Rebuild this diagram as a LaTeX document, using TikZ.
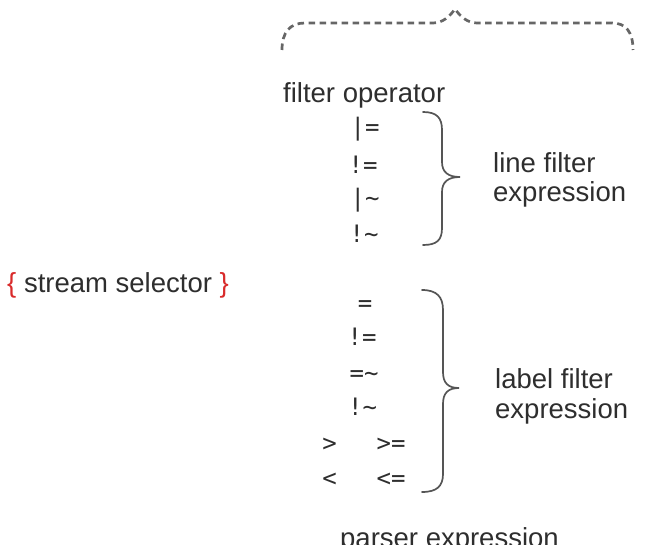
\documentclass[tikz,border=0pt]{standalone}
\usepackage{fontspec}
\setmainfont{Liberation Sans}
\newfontfamily\opfont{DejaVu Sans Mono}
\definecolor{txt}{HTML}{2E2E2E}
\definecolor{selred}{HTML}{D92B2B}
\definecolor{bracegray}{HTML}{555555}
\definecolor{dashgray}{HTML}{666666}
\begin{document}
\begin{tikzpicture}[x=1pt,y=-1pt,
  lbl/.style={anchor=base west, inner sep=0pt, text=txt, font=\fontsize{27.5}{30}\selectfont},
  op/.style={anchor=base, inner sep=0pt, text=txt, font=\opfont\fontsize{24}{26}\selectfont},
  bracepath/.style={draw=bracegray, line width=1.7pt, line cap=round},
  dashbrace/.style={draw=dashgray, line width=2.7pt, dash pattern=on 6.5pt off 4.5pt}]
\fill[white] (0,0) rectangle (656,559);
\useasboundingbox (0,0) rectangle (656,559);

% dashed top brace
\draw[dashbrace] (282,50) .. controls (282,32) and (290,23) .. (305,23)
  -- (433,23) .. controls (443,23) and (450,16) .. (455,9)
  .. controls (460,16) and (467,23) .. (477,23)
  -- (612,23) .. controls (626,23) and (633,32) .. (633,50);

% labels
\node[lbl] (fop) at (283,103) {filter operator};
\node[lbl] (sel) at (7,292) {\textcolor{selred}{\{} stream selector \textcolor{selred}{\}}};
\node[lbl] (lf1) at (493,172) {line filter};
\node[lbl] (lf2) at (493,201) {expression};
\node[lbl] (lb1) at (495,388) {label filter};
\node[lbl] (lb2) at (495,418) {expression};
\begin{scope}
\clip (0,0) rectangle (656,544);
\node[lbl] (pex) at (340,547) {parser expression};
\end{scope}

% line filter operators
\node[op] (o1) at (365,136) {|=};
\node[op] (o2) at (363,173) {!=};
\node[op] (o3) at (365,206) {|\string~};
\node[op] (o4) at (364,242) {!\string~};

% label filter operators
\node[op] (l1) at (365,311.5) {=};
\node[op] (l2) at (362,345) {!=};
\node[op] (l3) at (364,381) {=\string~};
\node[op] (l4) at (362.5,415) {!\string~};
\node[op] (l5a) at (329.5,451.5) {>};
\node[op] (l5b) at (391,451.5) {>=};
\node[op] (l6a) at (329.5,486.5) {<};
\node[op] (l6b) at (391,486.5) {<=};

% line filter brace
\draw[bracepath] (423,112) .. controls (437,112) and (442,118) .. (442,130)
  -- (442,162) .. controls (442,172) and (448,177) .. (460,177)
  .. controls (448,177) and (442,182) .. (442,192)
  -- (442,228) .. controls (442,240) and (437,245) .. (423,245);

% label filter brace
\draw[bracepath] (422,290) .. controls (437,290) and (443,297) .. (443,310)
  -- (443,372) .. controls (443,383) and (448,388) .. (459,388)
  .. controls (448,388) and (443,393) .. (443,404)
  -- (443,474) .. controls (443,486) and (437,492) .. (422,492);
\end{tikzpicture}
\end{document}
